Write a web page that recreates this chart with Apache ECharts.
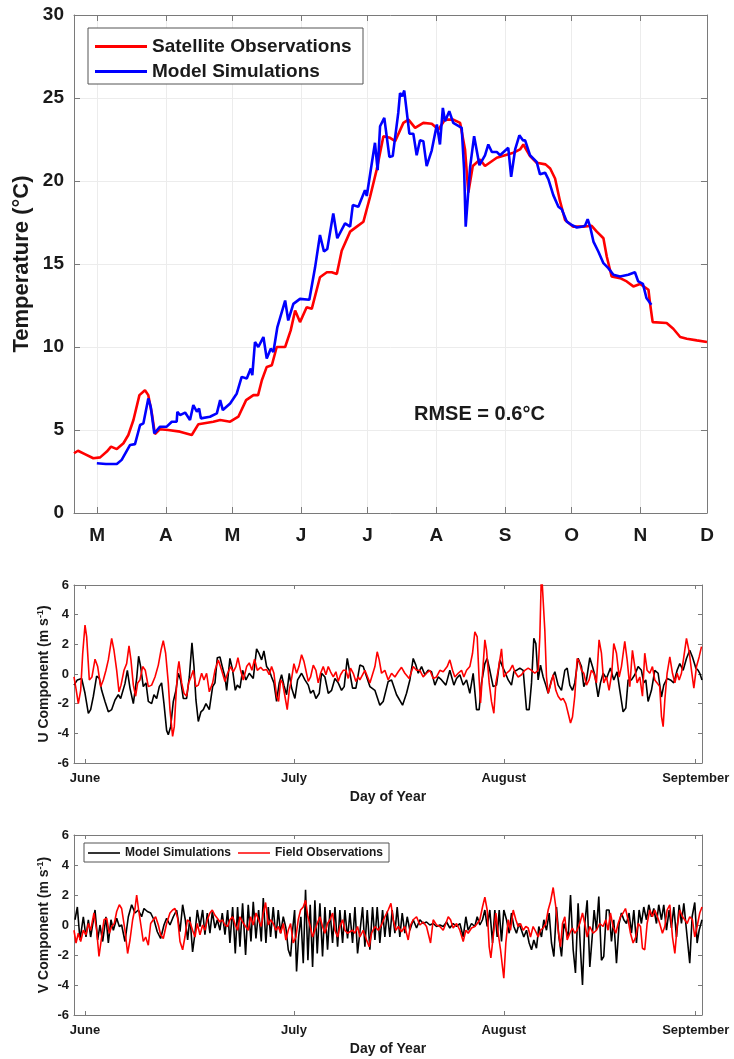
<!DOCTYPE html>
<html>
<head>
    <meta charset="utf-8">
    <title>Temperature and wind</title>
    <script src="https://cdn.jsdelivr.net/npm/echarts@6/dist/echarts.min.js"></script>
    <style>
        body { margin: 0; background: #fff; }
    </style>
</head>
<body>
    <div id="main" style="width: 734px;height:1059px;"></div>
    <script type="text/javascript">
        // month ticks of the temperature panel (day of year)
        var tempMonthDays = [60, 91, 121, 152, 182, 213, 244, 274, 305, 335];
        var tempMonthLabels = ['M', 'A', 'M', 'J', 'J', 'A', 'S', 'O', 'N', 'D'];

        // [day of year, temperature]
        var satelliteTemp = [
            [49.6,3.6],[51.4,3.75],[54.5,3.55],[58.3,3.3],[61.4,3.35],[64.4,3.7],[66.3,4.0],[68.9,3.85],[71.9,4.2],
            [74.1,4.7],[76.4,5.6],[79.1,7.1],[81.6,7.4],[83.1,7.1],[84.7,6.0],[86.1,4.75],[88.4,5.05],[92,5.0],
            [97.4,4.9],[102.7,4.7],[105.7,5.35],[112.4,5.5],[115.5,5.6],[120,5.5],[123.7,5.8],[127.2,6.8],[130.5,7.1],
            [132.6,7.1],[134.3,8.0],[136.5,8.8],[138.8,8.9],[141,10.0],[144.8,10.0],[147.3,11.0],[149.3,12.2],[151.5,11.5],
            [154.5,12.4],[156.8,12.3],[160.5,14.2],[163.6,14.5],[165.8,14.5],[168.1,14.4],[170.3,15.8],[174.1,16.95],
            [177.1,17.25],[180.1,17.55],[183.1,19.05],[186.1,20.7],[189.1,22.7],[192.1,22.6],[194.4,22.4],[198.1,23.5],
            [200.4,23.7],[203.4,23.2],[207.1,23.5],[210.9,23.45],[213.9,23.1],[216.9,23.7],[220.6,23.7],[223.7,23.5],
            [225.9,21.9],[227.4,19.3],[229.4,20.9],[232.7,21.3],[234.9,20.9],[240.2,21.4],[247.7,21.7],[250.7,21.9],
            [252.2,22.2],[255.2,21.5],[258.2,21.1],[262.2,21.0],[264.3,20.75],[266.5,20.15],[268.7,18.8],[271,17.65],
            [274.7,17.25],[279.3,17.25],[283,17.3],[285.3,16.95],[288.3,16.55],[289.8,15.45],[292,14.25],[295.8,14.15],
            [298.8,13.95],[301.8,13.65],[304.8,13.8],[308.6,13.45],[309.3,12.65],[310.5,11.5],[316.8,11.45],[319.8,11.1],
            [322.9,10.6],[325.9,10.5],[330.4,10.4],[335,10.3]
        ];
        var modelTemp = [
            [59.9,3.0],[64,2.95],[68.9,2.95],[71.1,3.2],[74.9,4.1],[77.1,4.15],[79.4,5.3],[80.9,5.4],[83.1,6.9],[84.2,6.4],
            [85.8,4.8],[88.4,5.2],[91.4,5.2],[93.7,5.5],[95.9,5.5],[96.2,6.1],[97.4,5.9],[99.7,6.05],[101.9,5.6],[103.4,6.5],
            [105,6.1],[106,6.3],[106.8,5.7],[110.9,5.8],[114,6.0],[115.5,6.8],[116.7,6.2],[120,6.6],[123,7.2],[125.2,8.2],
            [127.5,8.1],[129.3,8.7],[130,8.3],[131.2,10.3],[132.7,10.0],[135,10.6],[136.5,9.3],[138.3,9.9],[139.5,9.7],
            [141.3,11.2],[144.8,12.8],[146.2,11.6],[148.5,12.6],[151.5,12.9],[155.7,12.85],[158.3,14.8],[160.5,16.75],
            [162.3,15.75],[163.8,15.9],[166.5,18.05],[168.3,16.55],[171.8,17.45],[174.1,17.25],[175.3,18.55],[177.8,18.45],
            [180.8,19.45],[181.6,19.1],[185.3,22.3],[186.5,20.65],[187.6,23.3],[189.5,23.8],[191.8,21.45],[193.3,21.5],
            [195.8,24.1],[196.6,25.3],[197.6,25.1],[198.5,25.45],[200.8,22.85],[202.6,22.85],[204.1,21.55],[205.6,22.45],
            [207.1,22.4],[208.6,20.9],[210.9,21.85],[213.2,23.4],[214.6,22.2],[215.9,24.4],[216.9,23.6],[218.8,24.2],
            [220.6,23.5],[224.4,23.2],[225.5,20.65],[226.2,17.25],[228.2,20.85],[230,22.7],[232.4,20.95],[234.9,21.55],
            [236.4,22.2],[238,21.75],[240.2,21.75],[241.7,21.55],[245.4,22.0],[246.7,20.25],[248.5,21.9],[250.4,22.75],
            [252,22.45],[253,22.45],[255.2,21.55],[258.2,21.15],[259.7,20.4],[262,20.5],[263.5,20.1],[265.7,19.15],
            [268,18.45],[269.5,18.3],[271.8,17.55],[274,17.35],[276.3,17.2],[278.5,17.25],[280,17.3],[281.2,17.7],
            [282.3,17.25],[283.8,16.35],[286,15.75],[288.3,15.05],[290.5,14.75],[292.8,14.35],[295.8,14.25],[299.5,14.35],
            [302.5,14.5],[304,13.95],[306.1,13.8],[307.7,12.95],[309.9,12.55]
        ];

        // month ticks of the wind panels (day of year)
        var windTickDays = [152, 182, 212.14, 239.7];
        var windTickLabels = ['June', 'July', 'August', 'September'];

        // [day of year, m/s]
        var uModel = [
            [150.42,-0.75],[150.9,-0.4],[151.52,-0.3],[152.0,-1.3],[152.48,-2.65],[152.81,-2.4],[153.2,-1.5],[153.67,-0.15],
            [154.06,-0.3],[154.39,-1.1],[154.87,-1.85],[155.35,-2.55],[155.83,-2.4],[156.31,-1.75],[156.78,-1.4],[157.12,-1.65],
            [157.74,-0.65],[158.08,0.25],[158.46,-0.95],[158.94,-2.0],[159.42,-0.3],[159.7,1.2],[159.99,0.5],[160.37,-0.85],
            [160.76,-0.6],[161.09,-1.85],[161.57,-2.0],[161.9,-1.4],[162.29,-1.65],[162.67,-0.85],[163.0,-0.6],[163.34,-2.0],
            [163.72,-3.8],[163.96,-4.1],[164.3,-3.55],[164.68,-1.85],[165.06,-1.1],[165.4,0.05],[165.73,-0.4],[166.11,-1.65],
            [166.59,-1.65],[166.98,-0.2],[167.36,2.1],[167.65,0.5],[167.93,-1.75],[168.27,-3.2],[168.65,-2.55],[168.99,-2.4],
            [169.37,-2.0],[169.85,-2.4],[170.33,-0.85],[170.66,-0.6],[171.0,1.1],[171.38,1.15],[171.76,0.4],[172.1,-0.2],
            [172.34,-1.1],[172.81,1.05],[173.2,0.25],[173.58,-1.1],[173.87,-0.75],[174.25,-0.95],[174.63,0.25],[175.11,-0.4],
            [175.59,0.05],[176.16,-0.3],[176.64,1.7],[177.02,1.35],[177.36,0.95],[177.69,1.55],[178.08,0.5],[178.46,0.25],
            [178.79,-0.2],[179.13,-0.6],[179.51,-1.85],[179.89,-0.6],[180.23,-0.05],[180.56,-0.75],[180.95,-1.4],[181.33,0.05],
            [181.67,-0.95],[182.14,-1.65],[182.53,-0.4],[183.1,0.05],[183.58,-0.4],[184.06,-0.75],[184.39,-1.3],[184.78,-1.1],
            [185.16,-1.65],[185.64,-1.3],[185.97,0.05],[186.45,-0.2],[186.93,-1.3],[187.41,-1.1],[187.89,-0.3],[188.36,-0.6],
            [188.84,-1.1],[189.22,-0.85],[189.66,1.05],[190.04,0.05],[190.42,-0.95],[190.9,-0.95],[191.47,0.6],[191.95,0.5],
            [192.91,-0.85],[193.63,-1.1],[194.34,-2.1],[194.82,-1.85],[195.54,-0.5],[196.02,-0.4],[196.74,-1.4],[197.6,-2.1],
            [198.17,-1.3],[198.65,-0.4],[199.13,1.05],[199.51,0.6],[199.85,0.05],[200.33,0.5],[200.8,-0.05],[201.28,0.25],
            [201.76,0.15],[202.24,-0.75],[202.72,-0.2],[203.2,-0.4],[203.82,-0.75],[204.39,0.25],[204.97,-0.75],[205.35,-0.3],
            [205.83,-0.05],[206.31,-0.75],[206.79,-0.4],[207.26,-1.3],[207.74,0.05],[208.22,-2.4],[208.6,-2.4],[208.94,-0.6],
            [209.42,0.7],[209.75,1.05],[210.13,0.25],[210.61,-0.85],[211.09,-0.75],[211.57,0.95],[211.95,0.5],[212.29,0.15],
            [212.77,-0.4],[213.24,-0.75],[213.58,0.15],[213.96,0.25],[214.44,0.4],[214.92,0.25],[215.4,-2.4],[215.78,-2.4],
            [216.12,-0.6],[216.45,2.4],[216.74,2.05],[217.07,-0.4],[217.41,0.6],[217.79,-0.2],[218.17,-0.75],[218.51,-1.3],
            [218.99,-0.4],[219.47,0.15],[219.94,-0.75],[220.42,-1.1],[220.9,0.25],[221.24,0.4],[221.62,-0.75],[222.0,-1.1],
            [222.33,-0.6],[222.81,1.05],[223.29,0.5],[223.63,-0.85],[224.01,-0.4],[224.49,1.1],[224.87,0.5],[225.2,-0.05],
            [225.68,-1.55],[226.02,-0.6],[226.4,0.05],[226.88,-0.3],[227.45,0.4],[227.93,-0.4],[228.41,0.15],[228.8,-1.1],
            [229.27,-2.55],[229.66,-2.3],[229.99,-0.4],[230.47,-0.4],[230.95,-0.05],[231.43,0.5],[231.9,0.25],[232.24,-0.6],
            [232.53,-0.4],[232.86,-1.85],[233.34,-1.1],[233.82,0.25],[234.3,0.05],[234.78,-1.55],[235.11,-0.75],[235.59,-0.3],
            [236.07,-0.4],[236.55,-0.6],[237.03,0.25],[237.41,0.7],[237.89,0.25],[238.37,1.05],[238.84,1.6],[239.23,1.15],
            [239.71,0.4],[240.05,0.25],[240.28,0.05],[240.6,-0.4]
        ];
        var uField = [
            [150.42,-0.2],[150.71,-1.0],[151.04,-2.0],[151.38,-1.1],[151.67,1.4],[152.0,3.3],[152.24,2.5],[152.62,-0.4],
            [153.0,-0.2],[153.44,1.0],[153.82,0.5],[154.25,-0.85],[154.63,-0.4],[155.01,0.25],[155.35,0.95],[155.83,2.4],
            [156.16,1.6],[156.55,0.25],[156.88,-1.2],[157.17,-0.75],[157.6,0.25],[157.98,0.7],[158.32,1.9],[158.6,0.95],
            [158.94,-0.75],[159.27,-1.5],[159.56,-0.6],[159.89,-0.4],[160.28,0.5],[160.66,0.25],[161.09,-0.85],[161.57,-0.75],
            [162.05,-0.2],[162.53,0.6],[162.91,1.6],[163.24,2.25],[163.58,1.4],[163.96,-0.6],[164.2,-2.4],[164.58,-4.2],
            [164.82,-3.55],[165.06,-1.5],[165.3,0.25],[165.49,0.85],[165.88,-0.6],[166.21,-1.3],[166.59,-1.5],[166.88,-0.6],
            [167.22,-0.2],[167.55,0.25],[167.93,-0.85],[168.27,-0.75],[168.75,0.05],[169.08,-0.4],[169.46,0.05],[169.85,-1.2],
            [170.33,-0.6],[170.66,0.25],[171.14,0.95],[171.62,0.25],[172.1,-0.5],[172.48,0.05],[172.91,0.5],[173.29,0.15],
            [173.67,0.5],[173.96,1.1],[174.34,0.25],[174.73,-0.4],[175.21,0.5],[175.59,0.75],[175.97,0.25],[176.35,1.0],
            [176.74,0.25],[177.22,0.45],[177.6,0.25],[178.08,0.3],[178.46,-0.05],[178.79,0.5],[179.13,0.05],[179.51,-1.5],
            [179.8,-1.85],[180.09,-0.4],[180.37,-0.6],[180.71,-1.5],[181.04,-2.4],[181.33,-1.1],[181.67,-0.3],[182.0,0.7],
            [182.38,0.05],[182.72,0.5],[183.1,1.3],[183.44,0.85],[183.72,0.25],[184.06,-0.5],[184.39,-0.2],[184.78,0.6],
            [185.16,0.25],[185.49,-0.6],[185.83,0.05],[186.21,0.5],[186.59,-0.05],[186.93,0.5],[187.26,0.15],[187.65,-0.2],
            [188.03,0.15],[188.36,-0.5],[188.7,-0.05],[189.08,0.25],[189.46,0.25],[189.8,-0.3],[190.13,0.4],[190.52,0.05],
            [190.9,-0.5],[191.24,-0.2],[191.47,-0.4],[192.19,0.25],[192.91,-0.6],[193.63,0.5],[193.96,1.5],[194.25,0.95],
            [194.58,0.05],[195.06,0.25],[195.54,-0.4],[196.02,0.05],[196.5,-0.2],[196.98,0.15],[197.45,0.45],[197.93,0.05],
            [198.55,-0.3],[199.13,0.5],[199.61,0.25],[200.09,0.25],[200.56,-0.2],[201.04,0.05],[201.52,0.25],[202.0,-0.3],
            [202.48,-0.2],[202.96,0.25],[203.44,0.15],[204.01,0.5],[204.39,0.95],[204.78,0.25],[205.11,-0.2],[205.59,0.05],
            [206.07,0.25],[206.4,-0.2],[206.79,0.25],[207.26,0.5],[207.65,1.4],[207.98,2.85],[208.32,2.5],[208.6,-0.4],
            [208.8,-1.95],[209.08,-1.85],[209.42,2.3],[209.66,1.6],[210.04,-0.6],[210.37,-1.85],[210.71,-2.65],[211.0,-0.6],
            [211.33,0.25],[211.57,0.95],[211.81,1.7],[212.14,-0.2],[212.53,0.05],[213.0,0.25],[213.39,0.6],[213.72,0.15],
            [214.2,-0.2],[214.68,-0.05],[215.16,0.25],[215.64,0.4],[216.12,0.25],[216.59,0.05],[217.07,0.25],[217.31,2.5],
            [217.55,7.0],[217.79,7.0],[218.03,2.95],[218.27,-0.2],[218.51,-1.3],[218.84,-0.75],[219.23,-0.05],[219.61,-1.1],
            [219.94,-1.5],[220.33,-1.75],[220.66,-1.65],[221.04,-2.0],[221.38,-2.65],[221.72,-3.3],[222.0,-2.9],[222.33,-1.5],
            [222.67,1.05],[222.96,0.85],[223.29,0.25],[223.63,0.05],[224.01,-0.75],[224.39,-0.4],[224.72,0.25],[225.06,0.05],
            [225.44,-0.6],[225.82,2.3],[226.16,1.4],[226.49,-0.6],[226.88,-0.2],[227.26,-1.1],[227.64,0.05],[227.93,2.05],
            [228.32,1.4],[228.7,-0.2],[229.03,0.5],[229.51,2.2],[229.85,0.95],[230.23,-0.85],[230.61,1.6],[230.95,0.5],
            [231.28,-0.6],[231.67,-0.2],[232.05,-1.5],[232.38,1.4],[232.72,0.25],[233.1,0.05],[233.48,0.5],[233.82,-0.4],
            [234.15,-0.6],[234.53,-0.85],[234.78,-2.85],[235.02,-3.55],[235.26,-1.75],[235.59,0.05],[235.98,1.15],[236.36,0.05],
            [236.7,-0.6],[237.03,0.05],[237.32,-0.4],[237.65,0.05],[237.99,1.15],[238.37,2.4],[238.76,1.5],[239.09,0.25],
            [239.43,-0.95],[239.81,0.5],[240.19,1.15],[240.53,1.85]
        ];
        var vModel = [
            [150.56,0.35],[150.9,1.2],[151.28,-1.0],[151.76,0.55],[152.14,-0.8],[152.48,0.35],[152.81,-0.8],[153.44,1.0],
            [153.82,-1.0],[154.15,0],[154.54,-1.1],[155.01,0.55],[155.35,-1.2],[155.73,0.35],[156.07,-0.35],[156.55,0.45],
            [156.93,-0.1],[157.26,0],[157.74,-1.1],[158.22,0.55],[158.7,1.35],[159.18,0.8],[159.66,1.0],[160.13,0.55],
            [160.47,1.1],[160.95,0.9],[161.43,0.8],[161.9,0.35],[162.38,-0.45],[162.86,-0.9],[163.34,0],[163.72,0.45],
            [164.2,0],[164.68,0.55],[165.16,1.0],[165.64,-0.45],[166.02,1.35],[166.4,0.35],[166.74,-1.0],[167.07,0.55],
            [167.45,-1.8],[167.79,-0.55],[168.12,1.0],[168.51,-0.1],[168.89,1.0],[169.22,-0.65],[169.56,0.8],[169.94,-0.55],
            [170.28,0.9],[170.66,-0.2],[171.0,0.35],[171.38,-0.35],[171.71,0.8],[172.1,-0.65],[172.48,1.0],[172.81,-1.2],
            [173.2,1.2],[173.58,-1.9],[173.91,1.2],[174.25,-1.45],[174.63,1.45],[175.06,-2.0],[175.44,1.35],[175.83,-1.1],
            [176.16,1.55],[176.55,-0.9],[176.93,1.0],[177.31,-1.1],[177.6,1.8],[177.98,-1.2],[178.32,1.2],[178.65,-0.8],
            [179.03,1.2],[179.42,-0.9],[179.75,1.0],[180.09,-0.55],[180.47,0.55],[180.85,-0.2],[181.19,-1.65],[181.52,-2.1],
            [181.81,-0.35],[182.1,1.0],[182.38,-3.1],[182.67,-0.8],[183.0,0.55],[183.34,-2.55],[183.67,2.35],[184.01,-2.35],
            [184.34,1.35],[184.68,-2.8],[185.01,1.65],[185.35,-1.9],[185.73,1.45],[186.11,-2.1],[186.45,1.2],[186.83,-1.65],
            [187.17,1.0],[187.55,-1.2],[187.89,1.2],[188.27,-1.45],[188.6,1.0],[188.99,-1.2],[189.32,1.0],[189.7,-0.9],
            [190.04,0.8],[190.42,-1.2],[190.76,1.2],[191.14,-1.9],[191.86,1.2],[192.19,-1.45],[192.53,1.0],[192.91,-1.65],
            [193.29,1.2],[193.63,-1.0],[193.96,1.2],[194.34,-1.2],[194.73,1.0],[195.06,-0.8],[195.4,0.9],[195.78,-0.8],
            [196.11,1.0],[196.5,-0.55],[196.83,1.2],[197.21,-0.8],[197.55,0.8],[197.93,-0.55],[198.27,0.55],[198.65,-0.35],
            [199.13,0.35],[199.61,-0.2],[200.09,0.35],[200.56,0.1],[201.04,0.2],[201.52,0],[202.0,0.1],[202.48,-0.1],
            [202.96,0],[203.44,-0.1],[203.92,0.2],[204.39,-0.2],[204.87,0.1],[205.35,-0.1],[205.83,0.1],[206.31,-0.8],
            [206.69,0.55],[207.02,-0.35],[207.5,0.1],[207.98,-0.1],[208.32,0.55],[208.7,0],[209.08,0.35],[209.42,1.0],
            [209.75,-0.1],[210.13,1.0],[210.52,-1.2],[210.85,1.0],[211.19,-0.8],[211.48,1.0],[211.81,-1.1],[212.14,1.0],
            [212.53,0.35],[212.91,-0.55],[213.24,0.8],[213.58,-0.1],[213.96,-0.55],[214.34,0.1],[214.68,-0.35],[215.01,-0.8],
            [215.4,-0.35],[215.78,-1.2],[216.12,-1.65],[216.45,-1.0],[216.83,-1.55],[217.17,-0.1],[217.55,-0.8],[217.89,0.35],
            [218.27,-0.35],[218.65,0.8],[218.99,-1.2],[219.33,-2.1],[219.71,1.2],[220.05,-0.8],[220.43,-2.1],[220.77,0.1],
            [221.05,0.1],[221.38,-0.8],[221.72,2.0],[222.1,-1.65],[222.43,-3.2],[222.81,1.45],[223.15,-1.65],[223.44,-4.0],
            [223.77,0.1],[224.11,1.65],[224.49,-2.8],[224.83,-0.8],[225.11,1.0],[225.44,-0.35],[225.78,1.9],[226.16,-2.35],
            [226.49,-2.1],[226.88,1.0],[227.26,1.0],[227.6,-1.1],[227.93,0.35],[228.32,-2.55],[228.7,0.1],[229.03,0.8],
            [229.37,0.35],[229.75,0.1],[230.13,0.8],[230.47,-0.55],[230.81,1.0],[231.19,-1.2],[231.57,1.0],[231.9,0.1],
            [232.24,1.2],[232.62,0.35],[232.96,1.35],[233.34,0.55],[233.68,1.1],[234.06,0.1],[234.39,1.35],[234.78,0.35],
            [235.11,1.35],[235.5,-0.35],[235.88,1.0],[236.21,-0.2],[236.55,1.2],[236.94,-0.8],[237.32,1.35],[237.65,0.1],
            [237.99,1.45],[238.37,-0.35],[238.84,-2.55],[239.18,0.55],[239.56,1.5],[239.9,-1.2],[240.19,-0.35],[240.6,0.35]
        ];
        var vField = [
            [150.42,-0.35],[150.71,-1.2],[151.04,-0.55],[151.38,-1.1],[151.76,-0.35],[152.14,-0.65],[152.48,0.1],[152.81,-0.35],
            [153.29,0.8],[153.67,-0.35],[154.01,-2.1],[154.39,-0.8],[154.73,0.35],[155.11,0.45],[155.49,-0.55],[155.83,-0.1],
            [156.21,0.1],[156.55,0.9],[156.93,1.35],[157.26,1.1],[157.74,-0.35],[158.12,-1.9],[158.46,-1.0],[158.84,0.35],
            [159.18,1.1],[159.42,2.0],[159.7,1.0],[159.99,0.1],[160.37,-1.1],[160.71,-0.8],[161.09,-1.35],[161.43,0.1],
            [161.81,0.35],[162.14,0.55],[162.53,0],[162.86,-0.65],[163.24,-0.9],[163.72,0.1],[164.2,0.8],[164.58,1.0],
            [164.92,1.1],[165.3,0.45],[165.64,-1.1],[166.02,-1.65],[166.35,-0.8],[166.69,0.35],[167.07,0.2],[167.45,-0.35],
            [167.79,-0.8],[168.12,0.1],[168.51,-0.65],[168.89,0],[169.22,-0.35],[169.56,0.35],[169.94,0.8],[170.28,1.0],
            [170.66,0.65],[171.0,0.45],[171.38,0.2],[171.71,0.35],[172.1,0],[172.48,-0.1],[172.81,0.35],[173.2,0.55],
            [173.58,0],[173.91,-0.35],[174.25,0.55],[174.63,0.2],[175.06,-0.1],[175.44,-0.35],[175.78,0.55],[176.16,0],
            [176.55,0.8],[176.93,0.35],[177.31,-0.1],[177.6,0.8],[177.93,1.5],[178.32,0],[178.65,0.35],[179.03,0.1],
            [179.42,-0.35],[179.75,-0.1],[180.09,-0.55],[180.47,0.1],[180.85,-1.0],[181.19,-0.35],[181.52,0.1],[181.9,-1.2],
            [182.29,-0.8],[182.62,0.35],[182.96,1.0],[183.34,1.2],[183.67,1.65],[184.01,0.55],[184.34,-0.1],[184.68,-0.8],
            [185.01,-0.35],[185.35,0.1],[185.73,0.55],[186.11,-0.1],[186.45,-0.55],[186.83,0.1],[187.17,0.35],[187.55,0.8],
            [187.89,-0.35],[188.27,-0.8],[188.6,-0.1],[188.99,0.35],[189.32,-0.35],[189.7,-0.55],[190.04,-0.45],[190.42,-0.35],
            [190.76,-0.55],[191.14,-0.1],[191.47,-0.8],[191.95,-0.35],[192.43,-1.0],[192.81,-1.45],[193.15,-0.55],[193.63,-0.1],
            [194.11,-0.35],[194.58,0],[195.06,0.55],[195.54,1.0],[195.93,1.45],[196.26,0.35],[196.64,-0.35],[196.98,-0.1],
            [197.45,-0.45],[197.93,-0.1],[198.41,-1.0],[198.75,0],[199.13,0.35],[199.61,0.55],[200.09,0],[200.56,0.2],
            [201.04,-0.1],[201.62,-1.2],[202.0,0.35],[202.48,0],[202.96,-0.1],[203.44,-0.35],[203.82,0.1],[204.16,0.55],
            [204.49,0.35],[204.87,-0.2],[205.35,0.1],[205.83,-0.35],[206.31,-1.1],[206.69,-0.35],[207.02,-0.55],[207.5,-0.2],
            [207.98,-0.1],[208.32,0.1],[208.7,0.35],[209.08,1.2],[209.42,1.85],[209.75,1.0],[210.04,-1.45],[210.28,-2.2],
            [210.61,-0.8],[211.0,0.8],[211.33,-0.55],[211.67,-1.65],[211.95,-2.8],[212.14,-3.55],[212.43,-1.2],[212.77,0.35],
            [213.1,-0.35],[213.49,1.0],[213.87,0.35],[214.2,-0.1],[214.53,0.1],[214.92,-0.35],[215.3,-0.1],[215.64,-0.2],
            [215.97,-0.8],[216.35,-0.1],[216.74,-0.45],[217.07,-0.8],[217.41,-0.35],[217.79,-0.2],[218.17,0.1],[218.51,1.0],
            [218.84,1.55],[219.23,2.5],[219.61,1.2],[219.94,-0.35],[220.28,-1.45],[220.57,0.1],[220.9,0.55],[221.24,-1.0],
            [221.62,-0.55],[222.0,-0.2],[222.33,-0.55],[222.67,-0.35],[223.05,0.1],[223.44,0.8],[223.77,0.1],[224.11,-0.8],
            [224.49,-0.1],[224.97,-0.55],[225.44,-0.35],[225.92,0.1],[226.4,-0.1],[226.78,0.35],[227.11,-0.35],[227.45,0.8],
            [227.83,-0.1],[228.22,-0.55],[228.56,0.1],[228.89,0.55],[229.27,0.8],[229.61,1.1],[229.99,0.35],[230.33,-0.55],
            [230.71,-1.2],[231.09,-0.8],[231.43,0.1],[231.77,-0.1],[232.05,-1.55],[232.38,-1.65],[232.72,0.1],[233.1,1.0],
            [233.48,0.55],[233.82,1.0],[234.2,0.55],[234.53,0.1],[234.92,-0.55],[235.26,-0.1],[235.59,1.0],[235.98,1.35],
            [236.36,-0.8],[236.7,-1.9],[237.03,-0.1],[237.41,1.0],[237.8,0.55],[238.13,0.35],[238.47,0.1],[238.84,0.55],
            [239.23,0.35],[239.56,-0.8],[239.9,-0.1],[240.28,0.8],[240.6,1.2]
        ];

        // 公共样式
        var fontFamily = 'Liberation Sans, Arial, sans-serif';
        var textColor = '#1a1a1a';
        var axisColor = '#7a7a7a';

        function boxAxis(extra) {
            var base = {
                type: 'value',
                nameMoveOverlap: false,
                axisLine: { show: true, onZero: false, lineStyle: { color: axisColor, width: 1 } },
                axisTick: { show: true, inside: true, length: 5, lineStyle: { color: axisColor } },
                axisLabel: { show: false },
                splitLine: { show: false }
            };
            for (var k in extra) {
                if (typeof extra[k] === 'object' && base[k] && !Array.isArray(extra[k])) {
                    for (var j in extra[k]) base[k][j] = extra[k][j];
                } else {
                    base[k] = extra[k];
                }
            }
            return base;
        }

        var boldLabel = function (size, margin) {
            return { show: true, fontSize: size, fontWeight: 'bold', color: textColor, fontFamily: fontFamily, margin: margin };
        };

        function tempLabel(v) {
            var i = tempMonthDays.indexOf(v);
            return i >= 0 ? tempMonthLabels[i] : '';
        }
        function windLabel(v) {
            var i = windTickDays.indexOf(v);
            return i >= 0 ? windTickLabels[i] : '';
        }

        var compName = function (letter) {
            return letter + ' Component (m s{sup|-1})';
        };
        var compNameStyle = {
            fontSize: 14, fontWeight: 'bold', color: textColor, fontFamily: fontFamily,
            rich: { sup: { fontSize: 9, fontWeight: 'bold', color: textColor, fontFamily: fontFamily, padding: [0, 0, 7, 0] } }
        };

        var xAxes = [];
        var yAxes = [];
        // 温度图
        var tempLabelX = boldLabel(19, 13);
        tempLabelX.customValues = tempMonthDays;
        tempLabelX.formatter = tempLabel;
        xAxes.push(boxAxis({ gridIndex: 0, position: 'bottom', min: 49.6, max: 335,
            axisTick: { customValues: tempMonthDays, length: 6 }, axisLabel: tempLabelX,
            splitLine: { show: true, lineStyle: { color: '#ececec', width: 1 } } }));
        xAxes.push(boxAxis({ gridIndex: 0, position: 'top', min: 49.6, max: 335,
            axisTick: { customValues: tempMonthDays, length: 6 } }));
        yAxes.push(boxAxis({ gridIndex: 0, position: 'left', min: 0, max: 30, interval: 5,
            axisTick: { length: 6 }, axisLabel: boldLabel(19, 10),
            splitLine: { show: true, lineStyle: { color: '#ececec', width: 1 } },
            name: 'Temperature (°C)', nameLocation: 'middle', nameGap: 41,
            nameTextStyle: { fontSize: 22, fontWeight: 'bold', color: textColor, fontFamily: fontFamily } }));
        yAxes.push(boxAxis({ gridIndex: 0, position: 'right', min: 0, max: 30, interval: 5, axisTick: { length: 6 } }));

        // 风速两图
        for (var g = 1; g <= 2; g++) {
            var wl = boldLabel(13, 9);
            wl.customValues = windTickDays;
            wl.formatter = windLabel;
            xAxes.push(boxAxis({ gridIndex: g, position: 'bottom', min: 150.42, max: 240.6,
                axisTick: { customValues: windTickDays, length: 4 }, axisLabel: wl,
                name: 'Day of Year', nameLocation: 'middle', nameGap: 27,
                nameTextStyle: { fontSize: 14, fontWeight: 'bold', color: textColor, fontFamily: fontFamily } }));
            xAxes.push(boxAxis({ gridIndex: g, position: 'top', min: 150.42, max: 240.6,
                axisTick: { customValues: windTickDays, length: 4 } }));
            yAxes.push(boxAxis({ gridIndex: g, position: 'left', min: -6, max: 6, interval: 2,
                axisTick: { length: 4 }, axisLabel: boldLabel(13, 5),
                name: compName(g === 1 ? 'U' : 'V'), nameLocation: 'middle', nameGap: 22,
                nameTextStyle: compNameStyle }));
            yAxes.push(boxAxis({ gridIndex: g, position: 'right', min: -6, max: 6, interval: 2, axisTick: { length: 4 } }));
        }

        function lineSeries(name, data, axisIdx, color, width) {
            return {
                name: name, type: 'line', data: data,
                xAxisIndex: axisIdx, yAxisIndex: axisIdx,
                symbol: 'none', showSymbol: false, smooth: false,
                lineStyle: { color: color, width: width },
                itemStyle: { color: color },
                emphasis: { disabled: true }
            };
        }

        var legendNames = { 'V model': 'Model Simulations', 'V field': 'Field Observations' };

        var option = {
            animation: false,
            backgroundColor: '#fff',
            textStyle: { fontFamily: fontFamily },
            grid: [
                { left: 74, top: 15, width: 633, height: 498 },
                { left: 74, top: 585, width: 628, height: 178 },
                { left: 74, top: 835, width: 628, height: 180 }
            ],
            xAxis: xAxes,
            yAxis: yAxes,
            legend: [
                {
                    data: ['Satellite Observations', 'Model Simulations'],
                    orient: 'vertical', left: 95, top: 37, padding: 0, icon: 'rect',
                    itemWidth: 52, itemHeight: 3, itemGap: 6, selectedMode: false,
                    textStyle: { fontSize: 19, lineHeight: 19, fontWeight: 'bold', color: textColor, fontFamily: fontFamily }
                },
                {
                    data: ['V model', 'V field'],
                    orient: 'horizontal', left: 88, top: 847, padding: 0, icon: 'rect',
                    itemWidth: 32, itemHeight: 1.6, itemGap: 7, selectedMode: false,
                    formatter: function (name) { return legendNames[name]; },
                    textStyle: { fontSize: 12, lineHeight: 12, fontWeight: 'bold', color: textColor, fontFamily: fontFamily }
                }
            ],
            graphic: [
                { type: 'rect', z: 3, shape: { x: 88, y: 28, width: 275, height: 56 },
                  style: { fill: '#fff', stroke: '#555', lineWidth: 1 } },
                { type: 'rect', z: 3, shape: { x: 84, y: 843, width: 305, height: 19 },
                  style: { fill: '#fff', stroke: '#555', lineWidth: 1 } },
                { type: 'text', z: 5, left: 414, top: 404,
                  style: { text: 'RMSE = 0.6°C', font: 'bold 20px Liberation Sans', fill: textColor } }
            ],
            series: [
                lineSeries('Satellite Observations', satelliteTemp, 0, '#ff0000', 2.6),
                lineSeries('Model Simulations', modelTemp, 0, '#0000ff', 2.6),
                lineSeries('U model', uModel, 2, '#000000', 1.6),
                lineSeries('U field', uField, 2, '#ff0000', 1.6),
                lineSeries('V model', vModel, 4, '#000000', 1.6),
                lineSeries('V field', vField, 4, '#ff0000', 1.6)
            ]
        };

        var chart = echarts.init(document.getElementById('main'), null, { renderer: 'canvas' });
        chart.setOption(option);
    </script>
</body>
</html>
